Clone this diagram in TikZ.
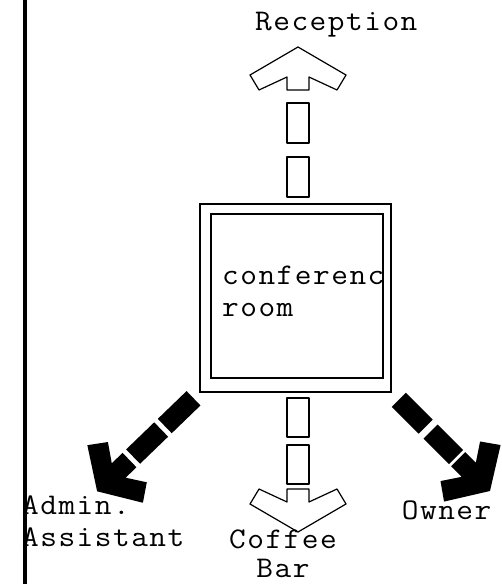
\documentclass[tikz,border=0pt]{standalone}
\usepackage{fontspec}
\usetikzlibrary{positioning}

\newfontfamily\planfam{lmmono12-regular.otf}[FakeStretch=1.08, LetterSpace=5]
\newcommand\planfont{\planfam\fontsize{30}{32}\selectfont}

\begin{document}
\begin{tikzpicture}[
        x=1pt, y=1pt,
        label/.style={font=\planfont, inner sep=0pt, anchor=base west, align=left},
        wall/.style={draw, line width=2.4pt, outer sep=0pt},
        planline/.style={draw, line width=1.2pt, line join=round},
        soliddash/.style={fill=black},
        openhead/.pic={\draw[planline] (0,0) -- (-28,48) -- (-43,39) -- (-30,11) -- (-43,11)
            -- (-43,-11) -- (-30,-11) -- (-43,-39) -- (-28,-48) -- cycle;},
        solidhead/.pic={\fill (0,0) -- (-25,40) -- (-42,28) -- (-30,10) -- (-45,10)
            -- (-45,-10) -- (-30,-10) -- (-42,-28) -- (-25,-40) -- cycle;}
    ]
        \useasboundingbox (0,0) rectangle (502,584);

        % outside wall
        \draw[line width=3.2pt] (25,0) -- (25,584);

        % the room
        \node (room) [wall, minimum width=191pt, minimum height=188pt, inner sep=0pt] at (295.5,286) {};
        \draw[wall, line width=1.8pt] ([shift={(11,-10)}]room.north west) rectangle ([shift={(-8,14)}]room.south east);
        \node (roomname) [label] at (222,267) {conferenc\\room};

        % ways out
        \begin{scope}[shift={([xshift=2.5pt]room.north)}, rotate=90]
            \foreach \a/\b in {7/47, 61/101} \draw[planline] (\a,-11) rectangle (\b,11);
            \pic[transform shape] at (157,0) {openhead};
        \end{scope}
        \begin{scope}[shift={([xshift=2.5pt]room.south)}, rotate=-90]
            \foreach \a/\b in {6/45, 53/92} \draw[planline] (\a,-11) rectangle (\b,11);
            \pic[transform shape] at (140,0) {openhead};
        \end{scope}
        \begin{scope}[shift={(room.south west)}, rotate=224]
            \foreach \a/\b in {9/49, 54/93} \fill[soliddash] (\a,-10) rectangle (\b,10);
            \pic[transform shape] at (143,0) {solidhead};
        \end{scope}
        \begin{scope}[shift={(room.south east)}, rotate=-45]
            \foreach \a/\b in {11/49, 56/92} \fill[soliddash] (\a,-10) rectangle (\b,10);
            \pic[transform shape] at (140,0) {solidhead};
        \end{scope}

        % the last line of each label sits on the given point
        \node (reception) [label] at (255,553.3) {Reception};
        \node (admin) [label] at (22,37.3) {Admin.\\Assistant};
        \node (coffee) [label, anchor=base, align=center, text depth=0pt] at (283,7) {Coffee\\[-3pt]Bar};
        \node (owner) [label] at (401.7,64.7) {Owner};
    \end{tikzpicture}
\end{document}
